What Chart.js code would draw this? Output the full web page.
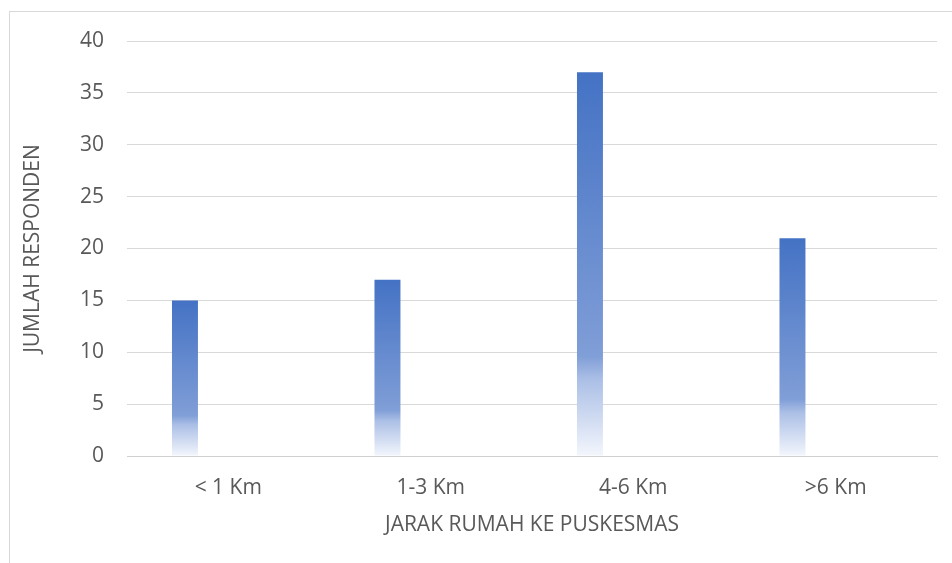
<!DOCTYPE html>
<html>
<head>
<meta charset="utf-8">
<script src="https://cdn.jsdelivr.net/npm/chart.js@4.4.1/dist/chart.umd.min.js"></script>
<style>
  html, body { margin: 0; padding: 0; background: #fff; }
  #frame {
    position: absolute; left: 9px; top: 11px; width: 1000px; height: 1000px;
    border-left: 1px solid #d9d9d9; border-top: 1px solid #d9d9d9;
  }
  #wrap { position: absolute; left: 0; top: 0; width: 952px; height: 563px; }
</style>
</head>
<body>
<div id="frame"></div>
<div id="wrap"><canvas id="JarakChart" width="952" height="563"></canvas></div>
<script>
const categories = ["< 1 Km", "1-3 Km", "4-6 Km", ">6 Km"];
const respondents = [15, 17, 37, 21];
// Excel left room for a second (empty) series, which pushes the bars left
const emptySeries = [null, null, null, null];
const yTicks = [0, 5, 10, 15, 20, 25, 30, 35, 40];

const textColor = "#595959";
const fontFamily = "'Open Sans', sans-serif";

function barGradient(context) {
  const chart = context.chart;
  const yScale = chart.scales.y;
  if (!yScale || context.raw == null) return "#4472c4";

  const top = yScale.getPixelForValue(context.raw);
  const base = yScale.getPixelForValue(0);
  if (!Number.isFinite(top) || !Number.isFinite(base) || top === base) return "#4472c4";

  const gradient = chart.ctx.createLinearGradient(0, top, 0, base);
  gradient.addColorStop(0, "#4472c4");
  gradient.addColorStop(0.74, "#809ed7");
  gradient.addColorStop(0.8, "#abbfe6");
  gradient.addColorStop(1, "#f3f6fc");

  return gradient;
}

new Chart(document.querySelector("#JarakChart"), {
  type: "bar",
  data: {
    labels: categories,
    datasets: [
      {
        label: "Jumlah Responden",
        data: respondents,
        backgroundColor: barGradient,
        borderWidth: 0,
        categoryPercentage: 0.855,
        barPercentage: 0.3,
      },
      {
        label: "",
        data: emptySeries,
        categoryPercentage: 0.855,
        barPercentage: 0.3,
      },
    ],
  },
  options: {
    responsive: false,
    animation: false,
    layout: {
      padding: { left: 0, top: 41, right: 15, bottom: 0 },
    },
    plugins: {
      legend: { display: false },
      tooltip: { enabled: false },
    },
    scales: {
      x: {
        afterFit(scale) {
          scale.height = 107;
        },
        grid: { display: false, drawTicks: false },
        border: { display: true, color: "#d0d0d0", width: 1 },
        ticks: {
          color: textColor,
          padding: 19,
          font: { family: fontFamily, size: 21 },
        },
        title: {
          display: true,
          text: "JARAK RUMAH KE PUSKESMAS",
          color: textColor,
          font: { family: fontFamily, size: 21 },
          padding: { top: 0, bottom: 25 },
        },
      },
      y: {
        min: 0,
        max: 40,
        afterFit(scale) {
          scale.width = 127;
        },
        afterBuildTicks(scale) {
          scale.ticks = yTicks.map((value) => ({ value }));
        },
        grid: { color: "#d9d9d9", lineWidth: 1, drawTicks: false },
        border: { display: false },
        ticks: {
          color: textColor,
          padding: 23,
          font: { family: fontFamily, size: 21 },
        },
        title: {
          display: true,
          text: "JUMLAH RESPONDEN",
          color: textColor,
          font: { family: fontFamily, size: 21 },
          padding: { top: 20, bottom: 0 },
        },
      },
    },
  },
});
</script>
</body>
</html>
